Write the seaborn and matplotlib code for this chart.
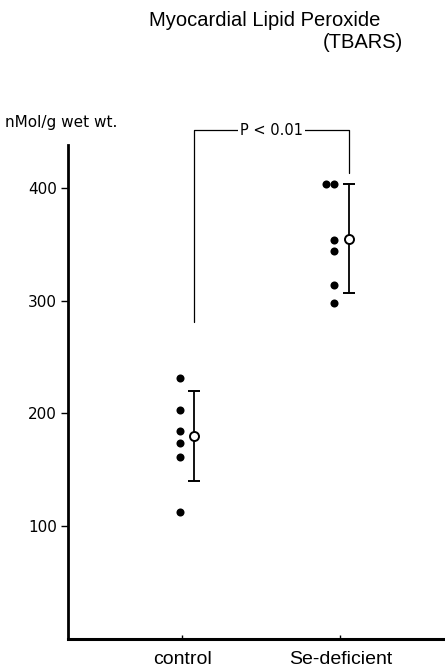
import numpy as np
import pandas as pd
import matplotlib
matplotlib.use("Agg")
import matplotlib.pyplot as plt
import matplotlib.transforms as mtransforms
import seaborn as sns

# values (nmol/g wet wt.)
groups = ["control", "Se-deficient"]
control_vals = [231, 203, 184, 173.5, 161, 113]
sedef_vals = [403, 403, 354, 344, 314, 298]
group_means = [180, 355]
group_sd = [40, 48]
p_label = "P < 0.01"
bracket_ends = [281, 413]   # lower ends of the bracket legs
bracket_top = 451
yticks = [100, 200, 300, 400]

df = pd.DataFrame({
    "group": ["control"] * len(control_vals) + ["Se-deficient"] * len(sedef_vals),
    "value": control_vals + sedef_vals,
})

sns.set_style("ticks", rc={"axes.edgecolor": "black", "text.color": "black",
                           "xtick.color": "black", "ytick.color": "black"})
plt.rcParams["font.family"] = ["DejaVu Sans"]

W, H, DPI = 445, 668, 100
fig = plt.figure(figsize=(W / DPI, H / DPI), dpi=DPI)
ax = fig.add_axes([68 / W, 1 - 639 / H, (W - 68) / W, (639 - 145) / H])

# individual animals
sns.swarmplot(data=df, x="group", y="value", order=groups, color="black",
              size=5.8, ax=ax, zorder=3)
shifts_pt = [-1.4, -4.6]
for coll, dx in zip(ax.collections, shifts_pt):
    coll.set_offset_transform(
        mtransforms.offset_copy(ax.transData, fig=fig, x=dx, y=0, units="points"))

# mean +/- SD, drawn just right of the dots
mean_offset = np.array([0.075, 0.057])
xm = np.arange(len(groups)) + mean_offset
ax.errorbar(xm, group_means, yerr=group_sd, fmt="o", ms=6.5, mfc="white",
            mec="black", mew=1.4, ecolor="black", elinewidth=1.3, capsize=4,
            capthick=1.3, zorder=4)

# significance bracket
ax.plot([xm[0], xm[0], xm[1], xm[1]],
        [bracket_ends[0], bracket_top, bracket_top, bracket_ends[1]],
        color="black", lw=0.9, clip_on=False, zorder=2)
ax.text(xm.mean(), bracket_top, p_label, ha="center", va="center", fontsize=10.5,
        bbox=dict(facecolor="white", edgecolor="none", pad=1.5), clip_on=False)

ax.set_xlim(-0.72, 1.66)
ax.set_ylim(0, 438)
ax.set_yticks(yticks)
ax.set_yticklabels([str(t) for t in yticks], fontsize=11)
ax.set_xticks(range(len(groups)))
ax.set_xticklabels(groups, fontsize=14, family="Liberation Sans")
ax.tick_params(axis="y", direction="out", length=5, width=1, pad=3)
ax.tick_params(axis="x", direction="in", length=3, width=1, pad=9)
ax.set_xlabel("")
ax.set_ylabel("")
for side in ["top", "right"]:
    ax.spines[side].set_visible(False)
ax.spines["left"].set_linewidth(2)
ax.spines["bottom"].set_linewidth(2.2)

fig.text(5 / W, 1 - 123 / H, "nMol/g wet wt.", ha="left", va="center", fontsize=11)
fig.text(265 / W, 1 - 20 / H, "Myocardial Lipid Peroxide", ha="center", va="center",
         fontsize=14.5, family="Liberation Sans")
fig.text(403 / W, 1 - 43 / H, "(TBARS)", ha="right", va="center",
         fontsize=14.5, family="Liberation Sans")

fig.savefig("out.png", dpi=DPI)
